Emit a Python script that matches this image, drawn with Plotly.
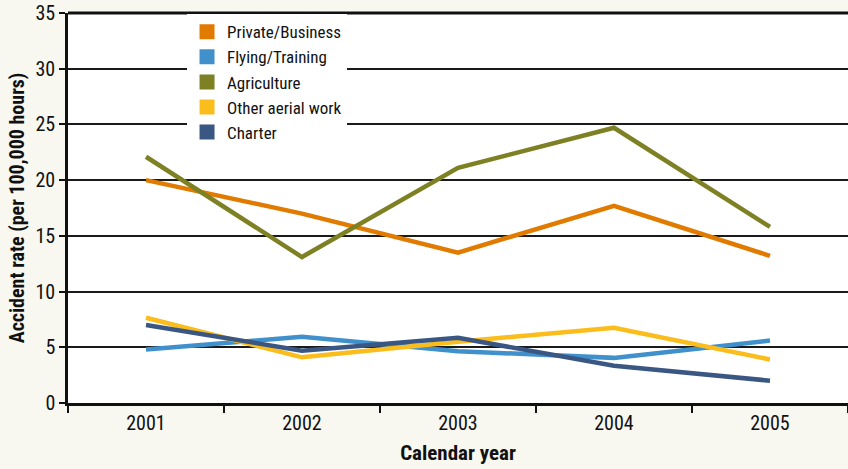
import plotly.graph_objects as go

years = ["2001", "2002", "2003", "2004", "2005"]
private_business = [20.0, 17.0, 13.5, 17.7, 13.2]
flying_training = [4.8, 5.95, 4.65, 4.05, 5.6]
agriculture = [22.1, 13.1, 21.1, 24.7, 15.8]
other_aerial = [7.65, 4.1, 5.5, 6.75, 3.9]
charter = [7.0, 4.7, 5.85, 3.35, 2.0]

series_names = ["Private/Business", "Flying/Training", "Agriculture", "Other aerial work", "Charter"]
series_values = [private_business, flying_training, agriculture, other_aerial, charter]
colors = ["#e07b00", "#3f90cb", "#7e8024", "#fbbd1c", "#3a5783"]
y_ticks = [0, 5, 10, 15, 20, 25, 30, 35]

FONT = "Liberation Sans Narrow, Arial Narrow, Roboto Condensed, sans-serif"

fig = go.Figure()
draw_order = [1, 3, 4, 0, 2]
for i in draw_order:
    fig.add_trace(go.Scatter(
        x=years, y=series_values[i], mode="lines",
        line=dict(color=colors[i], width=4.5),
        showlegend=False, hoverinfo="skip",
    ))
for name, c in zip(series_names, colors):
    fig.add_trace(go.Scatter(
        x=[None], y=[None], mode="markers", name=name,
        marker=dict(symbol="square", size=15, color=c),
    ))

fig.update_layout(
    width=848, height=469,
    margin=dict(l=68, r=0, t=13, b=66),
    paper_bgcolor="#f8f7f0",
    plot_bgcolor="#ffffff",
    font=dict(family=FONT, size=20, color="#111111"),
    legend=dict(
        x=0.1526, y=0.997, xanchor="left", yanchor="top",
        bgcolor="#ffffff", borderwidth=0,
        font=dict(family=FONT, size=17, color="#111111"),
        itemwidth=30, tracegroupgap=0,
    ),
    xaxis=dict(
        type="category", range=[-0.5, 4.5], automargin=False,
        showline=True, linecolor="#111111", linewidth=3,
        ticks="outside", tickson="boundaries", ticklen=7, tickwidth=2, tickcolor="#111111",
        showgrid=False, zeroline=False,
        tickfont=dict(family=FONT, size=20, color="#111111"),
        title=dict(text="<b>Calendar year</b>", font=dict(family=FONT, size=21, color="#111111"), standoff=12),
    ),
    yaxis=dict(
        range=[0, 35], tickvals=y_ticks, automargin=False,
        showline=True, linecolor="#111111", linewidth=2.5,
        ticks="outside", ticklen=6, tickwidth=1.5, tickcolor="#111111",
        showgrid=True, gridcolor="#1a1a1a", gridwidth=1.5,
        zeroline=False,
        tickfont=dict(family=FONT, size=20, color="#111111"),
        title=dict(text="<b>Accident rate (per 100,000 hours)</b>", font=dict(family=FONT, size=20, color="#111111"), standoff=6),
    ),
)
fig.add_shape(type="line", xref="paper", yref="paper", x0=0, x1=1, y0=1, y1=1,
              line=dict(color="#111111", width=3))

fig.write_html("out.html", config={"displayModeBar": False},
               post_script="document.body.style.margin='0';document.body.style.background='#f8f7f0';")
